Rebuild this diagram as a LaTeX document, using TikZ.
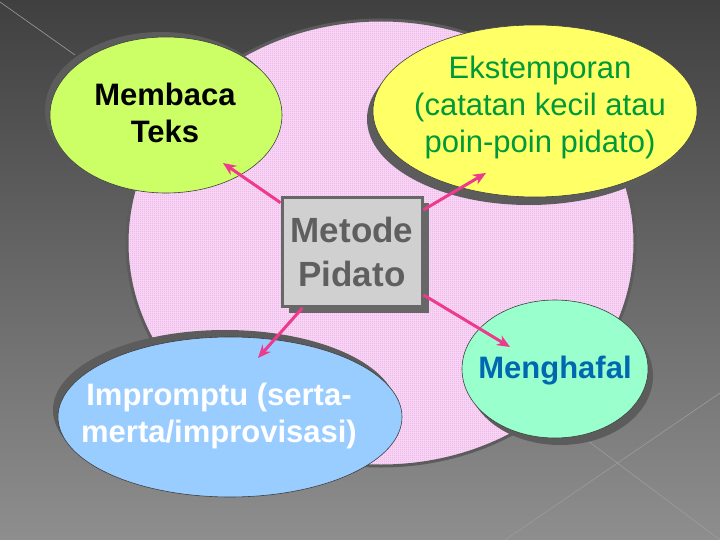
\documentclass[tikz,border=0pt]{standalone}
\usepackage{fontspec}
\setmainfont{Liberation Sans}
\usetikzlibrary{arrows.meta, positioning, shapes.geometric, shadows, patterns}

\definecolor{bgtop}{HTML}{404040}
\definecolor{bgbottom}{HTML}{8E8E8E}
\definecolor{rimgray}{HTML}{5C5C5C}
\definecolor{pinkbase}{HTML}{F9DAF6}
\definecolor{pinkdot}{HTML}{ECA8E8}
\definecolor{lime}{HTML}{CCFF66}
\definecolor{lemon}{HTML}{FFFF66}
\definecolor{sky}{HTML}{99CCFF}
\definecolor{mint}{HTML}{99FFCC}
\definecolor{boxgray}{HTML}{D0D0D0}
\definecolor{boxline}{HTML}{676767}
\definecolor{boxtext}{HTML}{5F5F5F}
\definecolor{ekgreen}{HTML}{00993A}
\definecolor{hafalblue}{HTML}{0068B0}
\definecolor{arrowpink}{HTML}{EE3A8C}
\definecolor{themeline}{HTML}{9C9C9C}

\pgfdeclarepatternformonly{pinkcheck}{\pgfqpoint{0pt}{0pt}}{\pgfqpoint{2pt}{2pt}}{\pgfqpoint{2pt}{2pt}}{%
  \pgfpathrectangle{\pgfqpoint{0pt}{0pt}}{\pgfqpoint{1pt}{1pt}}%
  \pgfpathrectangle{\pgfqpoint{1pt}{1pt}}{\pgfqpoint{1pt}{1pt}}%
  \pgfusepath{fill}}

\begin{document}
\begin{tikzpicture}[x=1pt, y=-1pt]
		\tikzstyle{Oval} = [ellipse, inner sep=0pt, draw=black!75, line width=0.6pt]
		\tikzstyle{Label} = [align=center, font=\fontsize{31}{37}\selectfont\bfseries]
		\tikzstyle{Box} = [rectangle, minimum width=140pt, minimum height=109pt, draw=boxline, line width=3pt, fill=boxgray, text=boxtext, align=center, font=\fontsize{35}{44}\selectfont\bfseries, drop shadow={shadow xshift=7pt, shadow yshift=-6pt, fill=boxline, opacity=1}]
		\tikzstyle{arrow} = [line width=3pt, draw=arrowpink, -{Stealth[length=13pt, width=11pt]}]
		
		%\draw[step=20pt, white, very thin] (0,0) grid (720,540);
		
		\useasboundingbox (0,0) rectangle (720,540);
		\shade[top color=bgtop, bottom color=bgbottom] (0,0) rectangle (720,540);
		\draw[themeline, line width=0.6pt] (0,2) -- (75,55);
		\draw[themeline, line width=0.6pt] (505,540) -- (720,393);
		\draw[themeline, line width=0.6pt] (560,420) -- (720,540);
		
		\node (pidato) [Oval, draw=rimgray, line width=3pt, preaction={fill=pinkbase}, pattern=pinkcheck, pattern color=pinkdot, minimum width=508pt, minimum height=446pt] at (381,243) {};
		\node (membaca) [Oval, fill=lime, minimum width=232pt, minimum height=156pt, drop shadow={shadow xshift=-5pt, shadow yshift=5pt, fill=rimgray, opacity=1}] at (166,115) {};
		\node (ekstemporan) [Oval, fill=lemon, minimum width=324pt, minimum height=172pt, drop shadow={shadow xshift=-6pt, shadow yshift=-8pt, fill=rimgray, opacity=1}] at (535,111) {};
		\node (impromptu) [Oval, fill=sky, minimum width=344pt, minimum height=160pt, drop shadow={shadow xshift=-5pt, shadow yshift=7pt, fill=rimgray, opacity=1}] at (230,417) {};
		\node (menghafal) [Oval, fill=mint, minimum width=186pt, minimum height=138pt, drop shadow={shadow xshift=5pt, shadow yshift=-7pt, fill=rimgray, opacity=1}] at (555,369) {};
		
		\node (membacaText) [Label] at (165,113) {Membaca\\Teks};
		\node (ekstemporanText) [Label, font=\fontsize{31}{37}\selectfont, text=ekgreen] at (540,107) {Ekstemporan\\(catatan kecil atau\\poin-poin pidato)};
		\node (impromptuText) [Label, text=white] at (219,416) {Impromptu (serta-\\merta/improvisasi)};
		\node (menghafalText) [Label, text=hafalblue] at (555,371) {Menghafal};
		
		\node (metode) [Box] at (352,252) {Metode\\Pidato};
		
		\coordinate (toMembaca) at (223,163);
		\coordinate (toEkstemporan) at (486,173);
		\coordinate (toImpromptu) at (258,358);
		\coordinate (toMenghafal) at (510,347);
		\draw[arrow] (metode) -- (toMembaca);
		\draw[arrow] (metode) -- (toEkstemporan);
		\draw[arrow] (metode) -- (toImpromptu);
		\draw[arrow] (metode) -- (toMenghafal);
\end{tikzpicture}
\end{document}
